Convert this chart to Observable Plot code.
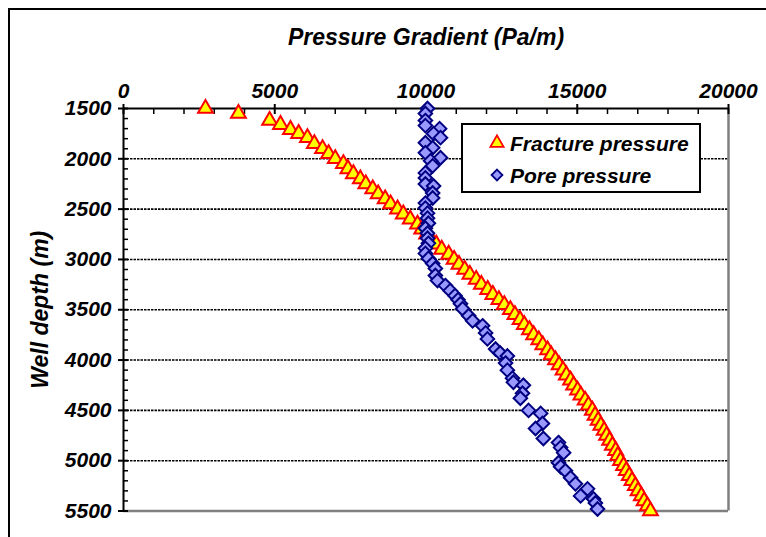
<!DOCTYPE html>
<html>
<head>
<meta charset="utf-8">
<script src="https://cdn.jsdelivr.net/npm/d3@7"></script>
<script src="https://cdn.jsdelivr.net/npm/@observablehq/plot@0.6"></script>
<style>
  html, body { margin: 0; padding: 0; background: #fff; }
  #wrap { position: relative; width: 766px; height: 537px; overflow: hidden; background: #fff; }
  #frame { position: absolute; left: 8px; top: 8px; width: 900px; height: 700px; border: 2px solid #000; box-sizing: border-box; pointer-events: none; }
  #chart { position: absolute; left: 0; top: 0; }
</style>
</head>
<body>
<div id="wrap"><div id="chart"></div><div id="frame"></div></div>
<script>
// ---- Data ----
const fracDepth = [1500,1550,1620,1660,1710,1750,1790,1850,1900,1950,2000,2050,2100,2150,2200,2250,2300,2350,2400,2450,2500,2550,2600,2650,2700,2750,2800,2850,2900,2950,3000,3050,3100,3150,3200,3250,3300,3350,3400,3450,3500,3550,3600,3650,3700,3750,3800,3850,3900,3950,4000,4050,4100,4150,4200,4250,4300,4350,4400,4450,4500,4550,4600,4650,4700,4750,4800,4850,4900,4950,5000,5050,5100,5150,5200,5250,5300,5350,5400,5450,5500];
const fracValue = [2710,3800,4830,5190,5520,5790,6080,6310,6580,6780,7000,7270,7420,7600,7830,8010,8240,8420,8650,8830,9060,9250,9480,9720,9860,10020,10170,10340,10520,10750,10930,11090,11280,11450,11660,11830,12040,12210,12410,12590,12790,12940,13110,13250,13420,13560,13730,13860,14020,14140,14280,14400,14530,14640,14780,14880,15010,15120,15260,15370,15500,15590,15690,15780,15890,15970,16070,16160,16270,16340,16430,16530,16620,16720,16810,16920,17010,17120,17210,17320,17420];

const poreDepth = [1500,1550,1620,1670,1700,1750,1790,1840,1890,1940,1990,2020,2070,2140,2190,2250,2270,2340,2390,2440,2490,2540,2590,2640,2690,2740,2790,2840,2890,2940,2990,3040,3090,3160,3210,3260,3310,3360,3400,3440,3490,3560,3610,3660,3730,3790,3890,3930,3960,4030,4100,4180,4220,4250,4330,4380,4500,4530,4630,4680,4780,4820,4870,4920,5020,5060,5100,5170,5230,5280,5350,5380,5420,5480];
const poreValue = [10050,9980,9980,9980,10450,10250,10480,9980,10220,9980,10480,10150,10220,9980,9980,9980,10250,10220,10220,9980,9980,10050,10050,10080,9980,10050,10050,10080,9980,9980,10080,10220,10310,10310,10380,10640,10800,10960,11060,11140,11210,11410,11540,11870,11970,12030,12300,12450,12690,12630,12690,12860,12890,13220,13190,13120,13390,13790,13850,13620,13880,14380,14450,14550,14380,14450,14610,14780,14940,15340,15110,15540,15600,15670];

const xTicks = [0, 5000, 10000, 15000, 20000];
const xMinorTicks = [1000,2000,3000,4000,6000,7000,8000,9000,11000,12000,13000,14000,16000,17000,18000,19000];
const yTicks = [1500, 2000, 2500, 3000, 3500, 4000, 4500, 5000, 5500];
const yMinorTicks = [1600,1700,1800,1900,2100,2200,2300,2400,2600,2700,2800,2900,3100,3200,3300,3400,3600,3700,3800,3900,4100,4200,4300,4400,4600,4700,4800,4900,5100,5200,5300,5400];
const gridDepths = [2000, 2500, 3000, 3500, 4000, 4500, 5000];

const seriesNames = ["Fracture pressure", "Pore pressure"];
const titleText = "Pressure Gradient (Pa/m)";
const yTitleText = "Well depth (m)";

// ---- Build tables ----
const fracture = fracDepth.map((d, i) => ({depth: d, value: fracValue[i]}));
const pore = poreDepth.map((d, i) => ({depth: d, value: poreValue[i]}));

const W = 766, H = 537;
const mT = 108, mB = 26.5, mL = 123, mR = 38;
const FONT = "'Liberation Sans', Arial, Helvetica, sans-serif";
const textStyle = {fontSize: 21, fontWeight: "bold", fontStyle: "italic", fontFamily: FONT, fill: "#000"};
const fmt = d => String(d);

const chart = Plot.plot({
  width: W, height: H,
  marginTop: mT, marginBottom: mB, marginLeft: mL, marginRight: mR,
  style: {fontFamily: FONT, fontSize: "21px", background: "transparent", color: "#000", overflow: "visible"},
  x: {domain: [0, 20000], label: null},
  y: {domain: [1500, 5500], reverse: true, label: null},
  marks: [
    Plot.ruleY(gridDepths, {stroke: "#000", strokeWidth: 1.6, strokeDasharray: "2.5,1"}),
    Plot.ruleY([5500], {stroke: "#808080", strokeWidth: 2.5}),
    Plot.ruleX([20000], {stroke: "#808080", strokeWidth: 2.5}),
    Plot.ruleY([1500], {stroke: "#000", strokeWidth: 2}),
    Plot.ruleX([0], {stroke: "#000", strokeWidth: 2}),
    Plot.axisX(xMinorTicks, {anchor: "top", tickSize: 5, dy: 5, tickFormat: () => "", strokeWidth: 1.5, label: null}),
    Plot.axisX(xTicks, {anchor: "top", tickSize: 10, dy: 5, tickFormat: () => "", strokeWidth: 2, label: null}),
    Plot.axisX(xTicks, {anchor: "top", tickSize: 0, tickPadding: 11, tickFormat: fmt, label: null, ...textStyle}),
    Plot.axisY(yMinorTicks, {anchor: "left", tickSize: 5, dx: 5, tickFormat: () => "", strokeWidth: 1.5, label: null}),
    Plot.axisY(yTicks, {anchor: "left", tickSize: 10, dx: 5, tickFormat: () => "", strokeWidth: 2, label: null}),
    Plot.axisY(yTicks, {anchor: "left", tickSize: 0, tickPadding: 12, tickFormat: fmt, label: null, ...textStyle}),
    Plot.dot(fracture, {x: "value", y: "depth", symbol: "triangle", r: 5.5, fill: "#FFFF00", stroke: "#FF0000", strokeWidth: 2}),
    Plot.dot(pore, {x: "value", y: "depth", symbol: "diamond2", r: 6.1, fill: "#9999FF", stroke: "#000080", strokeWidth: 2}),
    Plot.text([titleText], {text: d => d, frameAnchor: "top", textAnchor: "middle", dy: 37 - mT, lineAnchor: "middle", ...textStyle, fontSize: 23}),
    Plot.text([yTitleText], {text: d => d, frameAnchor: "left", textAnchor: "middle", dx: 40 - mL, rotate: -90, lineAnchor: "middle", ...textStyle, fontSize: 23})
  ]
});

document.getElementById("chart").appendChild(chart);

// ---- Legend ----
const svg = d3.select(chart);
const lg = svg.append("g");
lg.append("rect").attr("x", 462).attr("y", 124).attr("width", 238).attr("height", 68)
  .attr("fill", "#fff").attr("stroke", "#000").attr("stroke-width", 2);
const items = [
  {name: seriesNames[0], sym: d3.symbolTriangle, size: 75, fill: "#FFFF00", stroke: "#FF0000", y: 143},
  {name: seriesNames[1], sym: d3.symbolDiamond2, size: 75, fill: "#9999FF", stroke: "#000080", y: 175}
];
items.forEach(it => {
  lg.append("path").attr("d", d3.symbol(it.sym, it.size)())
    .attr("transform", `translate(497,${it.y})`)
    .attr("fill", it.fill).attr("stroke", it.stroke).attr("stroke-width", 1.8);
  lg.append("text").attr("x", 510).attr("y", it.y + 7.5)
    .attr("text-anchor", "start")
    .attr("font-family", FONT).attr("font-size", 21).attr("font-weight", "bold").attr("font-style", "italic")
    .attr("fill", "#000").text(it.name);
});
</script>
</body>
</html>
